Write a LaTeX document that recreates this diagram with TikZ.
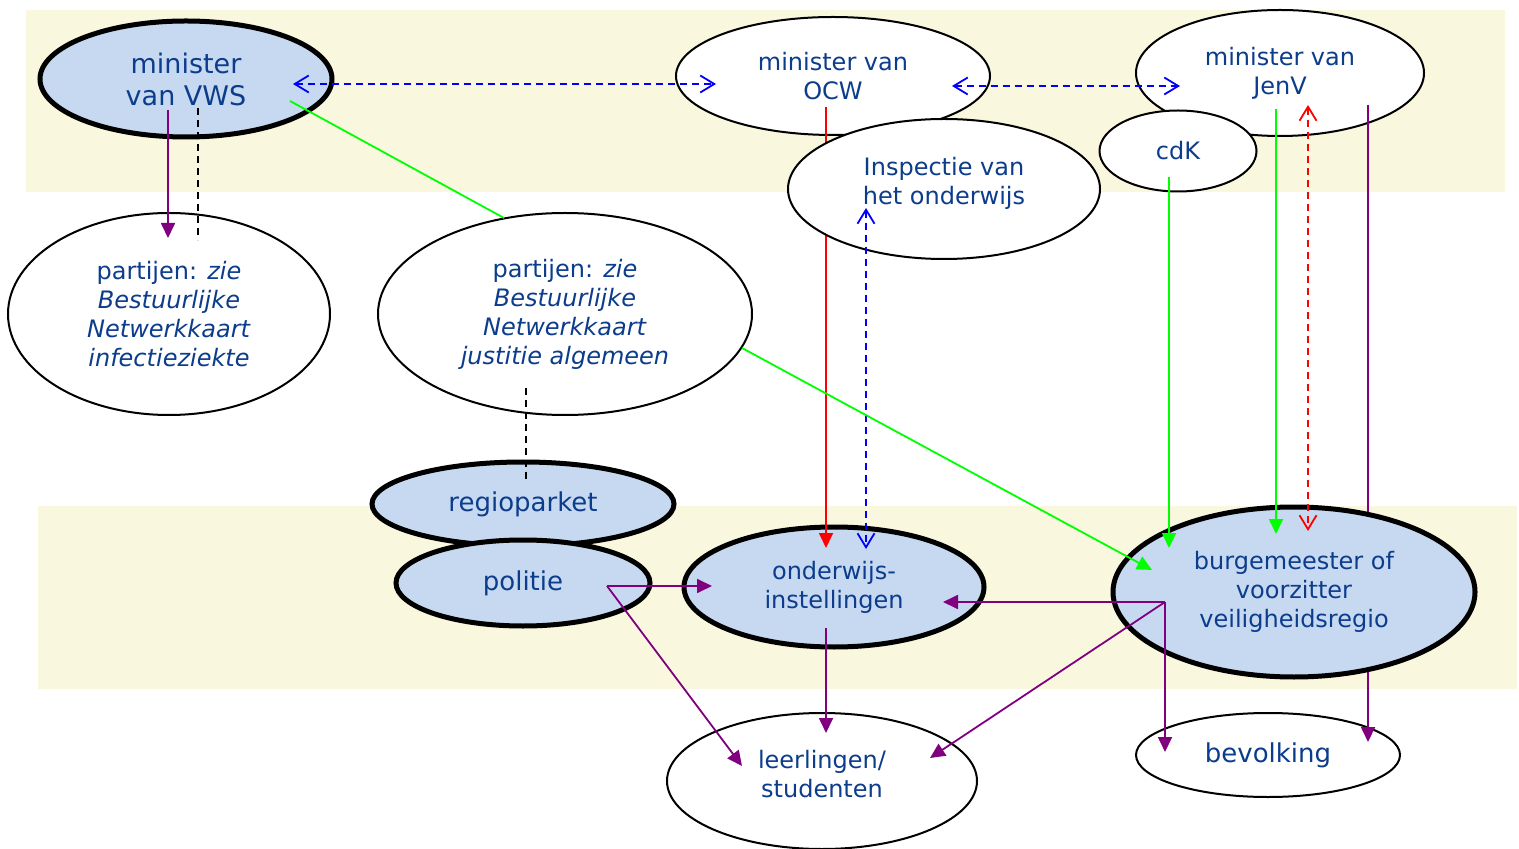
\documentclass[tikz,border=0pt]{standalone}
\usepackage{fontspec}
\setmainfont{DejaVu Sans}
\usepackage{tikz}
\usetikzlibrary{calc,shapes.geometric,arrows.meta}
\definecolor{band}{RGB}{249,247,222}
\definecolor{actorblue}{RGB}{198,217,240}
\definecolor{textblue}{RGB}{12,60,140}
\definecolor{steer}{RGB}{128,0,128}
\definecolor{lime}{RGB}{0,255,0}
\tikzset{
  actor/.style={ellipse, draw=black, line width=1pt, fill=white, text=textblue,
    align=center, inner sep=0pt, font=\fontsize{12}{14.5}\selectfont},
  keyactor/.style={actor, line width=2.5pt, fill=actorblue},
  fulltip/.tip={Triangle[length=7.5pt,width=7pt]},
  opentip/.tip={Straight Barb[length=7pt,width=8.5pt]},
}
\def\drawsteer{\draw[color=steer, line width=0.9pt, -fulltip]}
\def\drawgreen{\draw[color=lime, line width=0.9pt]}
\def\drawinfo{\draw[color=blue, line width=0.9pt, dash pattern=on 3.5pt off 2.5pt, opentip-opentip]}
\def\drawlink{\draw[color=black, line width=0.8pt, dash pattern=on 3.5pt off 2.5pt]}

\begin{document}
\begin{tikzpicture}[x=0.5pt,y=-0.5pt]
\useasboundingbox (0,0) rectangle (1519,849);
% the two levels
\fill[band] (26,10) rectangle (1505,192);
\fill[band] (38,506) rectangle (1517,689);

% ---------- top level
\node[keyactor, minimum width=146pt, minimum height=58pt, font=\fontsize{13.5}{16}\selectfont] (vws) at (186,79) {minister\\van VWS};
\node[actor, minimum width=157pt, minimum height=59pt] (ocw) at (833,76) {minister van\\OCW};
\node[actor, minimum width=144pt, minimum height=63pt] (jenv) at (1280,73) {minister van\\JenV};
\node[actor, minimum width=78.5pt, minimum height=40.5pt] (cdk) at (1178,151) {cdK};

% ---------- partijen
\node[actor, minimum width=161pt, minimum height=101pt] (part_inf) at (169,314)
  {partijen: \textit{zie}\\\textit{Bestuurlijke}\\\textit{Netwerkkaart}\\\textit{infectieziekte}};
\node[actor, minimum width=187pt, minimum height=101pt] (part_jus) at (565,314)
  {partijen: \textit{zie}\\\textit{Bestuurlijke}\\\textit{Netwerkkaart}\\\textit{justitie algemeen}};

% ---------- bottom level
\node[keyactor, minimum width=151pt, minimum height=42pt, font=\fontsize{13}{15}\selectfont] (regio) at (523,504) {regioparket};
\node[keyactor, minimum width=127pt, minimum height=43pt, font=\fontsize{13}{15}\selectfont] (politie) at (523,583) {politie};
\node[keyactor, minimum width=150pt, minimum height=60pt] (onder) at (834,587) {onderwijs-\\instellingen};
\node[actor, minimum width=155pt, minimum height=68pt, text depth=7pt] (leer) at (822,781) {leerlingen/\\studenten};
\node[actor, minimum width=132pt, minimum height=42pt, font=\fontsize{13}{15}\selectfont] (bev) at (1268,755) {bevolking};

% lines that run under the inspectie and the burgemeester
\draw[color=red, line width=0.9pt, -fulltip] ($ (ocw) + (-7,31) $) to ($ (onder) + (-8,-39) $);
\drawsteer ($ (jenv) + (88,32) $) to ($ (bev) + (100,-13) $);

\node[actor, minimum width=156pt, minimum height=70pt, text depth=8.5pt] (insp) at (944,189) {Inspectie van\\het onderwijs};
\node[keyactor, minimum width=181pt, minimum height=85pt] (burg) at (1294,592) {burgemeester of\\voorzitter\\veiligheidsregio};

% ---------- information lines
\drawinfo ($ (vws) + (107,5) $) to ($ (ocw) + (-117,8) $);
\drawinfo ($ (ocw) + (119,10) $) to ($ (jenv) + (-100,13) $);
\drawinfo ($ (insp) + (-78,19) $) to ($ (onder) + (32,-38) $);
\draw[color=red, line width=0.9pt, dash pattern=on 3.5pt off 2.5pt, opentip-opentip] ($ (jenv) + (28,32) $) to ($ (burg) + (14,-61) $);

% ---------- links to the partijen
\drawsteer ($ (vws) + (-18,31) $) to ($ (part_inf) + (-1,-76) $);
\drawlink ($ (vws) + (12,29) $) to ($ (part_inf) + (29,-74) $);
\drawlink ($ (part_jus) + (-39,74) $) to ($ (regio) + (3,-24) $);
\drawgreen ($ (vws) + (104,22) $) to ($ (part_jus) + (-61,-96) $);
\drawgreen[-fulltip] ($ (part_jus) + (177,34) $) to ($ (burg) + (-142,-22) $);
\drawgreen[-fulltip] ($ (cdk) + (-9,26) $) to ($ (burg) + (-125,-44) $);
\drawgreen[-fulltip] ($ (jenv) + (-4,36) $) to ($ (burg) + (-18,-58) $);

% ---------- steering in the region
\coordinate (pol_out) at ($ (politie) + (84,3) $);
\drawsteer (pol_out) to ($ (onder) + (-122,-1) $);
\drawsteer (pol_out) to ($ (leer) + (-80,-15) $);
\coordinate (burg_out) at ($ (burg) + (-129,10) $);
\drawsteer (burg_out) to ($ (onder) + (109,15) $);
\drawsteer (burg_out) to ($ (leer) + (108,-23) $);
\drawsteer (burg_out) to ($ (bev) + (-103,-3) $);
\drawsteer ($ (onder) + (-8,41) $) to ($ (leer) + (4,-48) $);
\end{tikzpicture}
\end{document}
